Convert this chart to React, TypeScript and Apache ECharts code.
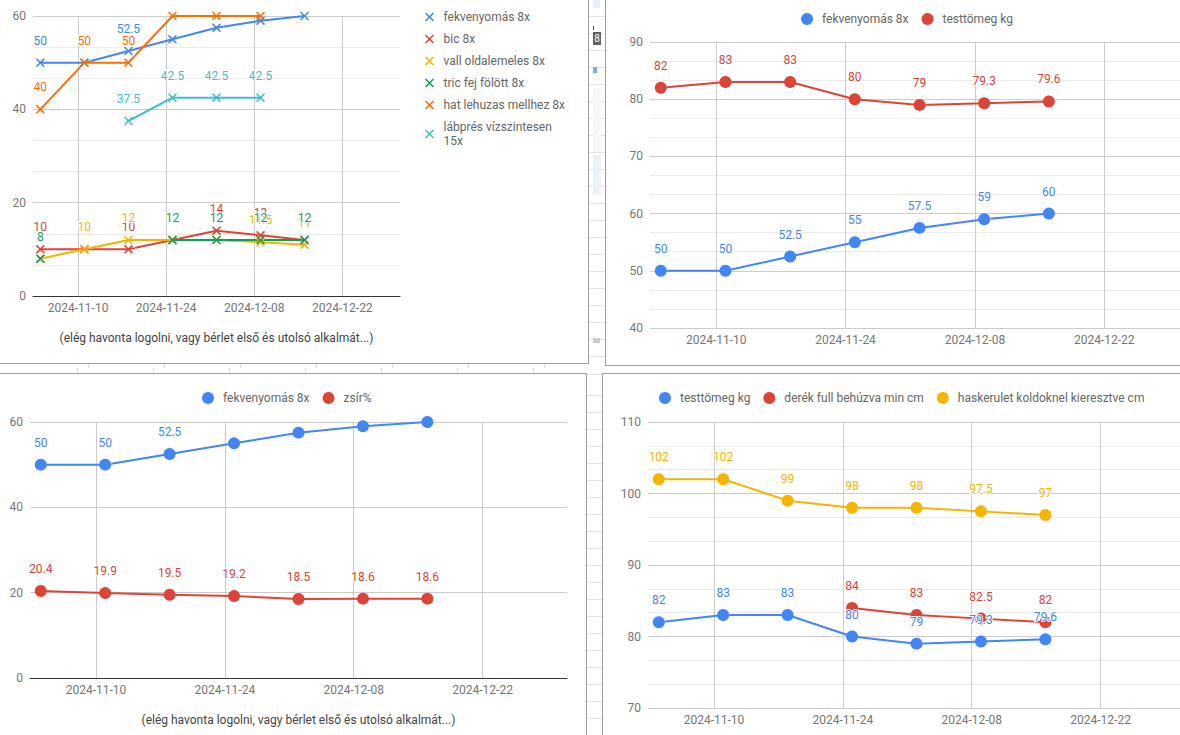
import React, { useEffect, useRef } from 'react';
import * as echarts from 'echarts';

// ---------- data ----------
const dates = ['2024-11-04', '2024-11-11', '2024-11-18', '2024-11-25', '2024-12-02', '2024-12-09', '2024-12-16'];
const tickDates = ['2024-11-10', '2024-11-24', '2024-12-08', '2024-12-22'];
const axisStart = '2024-11-02T20:00';
const axisEnd = '2024-12-31T04:00';

const fekvenyomas = [50, 50, 52.5, 55, 57.5, 59, 60];
const bic = [10, 10, 10, 12, 14, 13, 12];
const vall = [8, 10, 12, 12, 12, 11.5, 11];
const tric = [8, null, null, 12, 12, 12, 12];
const hat = [40, 50, 50, 60, 60, 60, null];
const labpres = [null, null, 37.5, 42.5, 42.5, 42.5, null];
const testtomeg = [82, 83, 83, 80, 79, 79.3, 79.6];
const zsir = [20.4, 19.9, 19.5, 19.2, 18.5, 18.6, 18.6];
const derek = [null, null, null, 84, 83, 82.5, 82];
const haskerulet = [102, 102, 99, 98, 98, 97.5, 97];

// which data labels are visible in the reference
const lblFekv1 = [true, false, true, false, false, false, false];
const lblBic = [true, false, true, false, true, true, false];
const lblVall = [false, true, true, false, false, true, true];
const lblTric = [true, false, false, true, true, true, true];
const lblHat = [true, true, true, false, false, false, false];
const lblLab = [false, false, true, true, true, true, false];
const lblFekv3 = [true, true, true, false, false, false, false];

const names = {
  fekv: 'fekvenyomás 8x',
  bic: 'bic 8x',
  vall: 'vall oldalemeles 8x',
  tric: 'tric fej fölött 8x',
  hat: 'hat lehuzas mellhez 8x',
  lab: 'lábprés vízszintesen 15x',
  test: 'testtömeg kg',
  zsir: 'zsír%',
  derek: 'derék full behúzva min cm',
  has: 'haskerulet koldoknel kieresztve cm',
};
const subtitle = '(elég havonta logolni, vagy bérlet első és utolsó alkalmát...)';

// ---------- style ----------
const FONT = 'Roboto, Arial, sans-serif';
const COL = {
  blue: '#4285F4',
  red: '#DB4437',
  yellow: '#F4B400',
  green: '#0F9D58',
  orange: '#FF6D01',
  teal: '#46BDC6',
};
const XSYM = 'path://M1.2,0L5,3.8L8.8,0L10,1.2L6.2,5L10,8.8L8.8,10L5,6.2L1.2,10L0,8.8L3.8,5L0,1.2Z';

function ts(s: string): number {
  const [dp, tp] = s.split('T');
  const [y, m, d] = dp.split('-').map(Number);
  const [hh, mm] = tp ? tp.split(':').map(Number) : [0, 0];
  return new Date(y, m - 1, d, hh, mm).getTime();
}
const pad = (n: number) => (n < 10 ? '0' + n : '' + n);
function fmtDate(v: number): string {
  const d = new Date(v);
  return d.getFullYear() + '-' + pad(d.getMonth() + 1) + '-' + pad(d.getDate());
}

function xAxisOpt(baseline: boolean, name?: string) {
  const ticks = tickDates.map(ts);
  return {
    type: 'value',
    min: ts(axisStart),
    max: ts(axisEnd),
    axisLine: { show: baseline, onZero: false, lineStyle: { color: '#333333', width: 1 } },
    axisTick: { show: false, customValues: ticks },
    axisLabel: {
      customValues: ticks,
      formatter: (v: number) => fmtDate(v),
      color: '#757575',
      fontSize: 12,
      fontFamily: FONT,
      margin: 6,
      hideOverlap: false,
    },
    splitLine: { show: true, lineStyle: { color: '#cccccc', width: 1 } },
    name: name || '',
    nameLocation: 'middle',
    nameGap: 36,
    nameTextStyle: { color: '#444444', fontSize: 12, fontFamily: FONT },
  };
}

function yAxisOpt(min: number, max: number, interval: number, minor: boolean) {
  return {
    type: 'value',
    min,
    max,
    interval,
    axisLine: { show: false },
    axisTick: { show: false },
    axisLabel: { color: '#757575', fontSize: 12, fontFamily: FONT, margin: 7 },
    splitLine: { show: true, lineStyle: { color: '#cccccc', width: 1 } },
    minorTick: { show: false, splitNumber: 3 },
    minorSplitLine: { show: minor, lineStyle: { color: '#ebebeb', width: 1 } },
  };
}

function series(
  name: string,
  values: (number | null)[],
  color: string,
  flags: boolean[] | null,
  cross: boolean
) {
  const size = cross ? 9 : 12;
  return {
    name,
    type: 'line',
    color,
    symbol: cross ? XSYM : 'circle',
    symbolSize: size,
    symbolKeepAspect: true,
    showSymbol: true,
    connectNulls: false,
    clip: true,
    lineStyle: { width: 2, color },
    itemStyle: { color, borderWidth: 0 },
    emphasis: { disabled: true },
    label: {
      show: true,
      position: 'top',
      distance: 22 - 7 - size / 2,
      color,
      fontSize: 12,
      fontFamily: FONT,
      lineHeight: 14,
      textBorderColor: '#ffffff',
      textBorderWidth: 2,
      formatter: (p: any) => String(p.value[1]),
    },
    labelLine: { show: true, lineStyle: { color: '#e6e6e6', width: 1 } },
    data: dates.map((d, i) => ({
      value: [ts(d), values[i]],
      label: { show: values[i] != null && (flags ? flags[i] : true) },
    })),
  };
}

function legendOpt(left: number, top: number) {
  return {
    left,
    top,
    icon: 'circle',
    itemWidth: 20,
    itemHeight: 12,
    itemGap: 13,
    textStyle: { color: '#666666', fontSize: 12, fontFamily: FONT, lineHeight: 14 },
  };
}

const opt1 = {
  animation: false,
  textStyle: { fontFamily: FONT },
  grid: { left: 33, top: 16, width: 367, height: 280, outerBoundsMode: 'none' },
  legend: {
    orient: 'vertical',
    left: 420,
    top: 5,
    icon: XSYM,
    itemWidth: 18,
    itemHeight: 9,
    itemGap: 8,
    symbolKeepAspect: true,
    textStyle: { color: '#666666', fontSize: 12, fontFamily: FONT, lineHeight: 14 },
    formatter: (n: string) => (n === names.lab ? 'lábprés vízszintesen\n15x' : n),
    data: [names.fekv, names.bic, names.vall, names.tric, names.hat, names.lab],
  },
  xAxis: xAxisOpt(true, subtitle),
  yAxis: yAxisOpt(0, 60, 20, true),
  series: [
    series(names.fekv, fekvenyomas, COL.blue, lblFekv1, true),
    series(names.bic, bic, COL.red, lblBic, true),
    series(names.vall, vall, COL.yellow, lblVall, true),
    series(names.tric, tric, COL.green, lblTric, true),
    series(names.hat, hat, COL.orange, lblHat, true),
    series(names.lab, labpres, COL.teal, lblLab, true),
  ],
};

const opt2 = {
  animation: false,
  textStyle: { fontFamily: FONT },
  grid: { left: 44, top: 42, width: 539, height: 286, outerBoundsMode: 'none' },
  legend: { ...legendOpt(190, 7), data: [names.fekv, names.test] },
  xAxis: xAxisOpt(false),
  yAxis: yAxisOpt(40, 90, 10, true),
  series: [
    series(names.fekv, fekvenyomas, COL.blue, null, false),
    series(names.test, testtomeg, COL.red, null, false),
  ],
};

const opt3 = {
  animation: false,
  textStyle: { fontFamily: FONT },
  grid: { left: 30, top: 48, width: 537, height: 256, outerBoundsMode: 'none' },
  legend: { ...legendOpt(197, 12), data: [names.fekv, names.zsir] },
  xAxis: xAxisOpt(true, subtitle),
  yAxis: yAxisOpt(0, 60, 20, false),
  series: [
    series(names.fekv, fekvenyomas, COL.blue, lblFekv3, false),
    series(names.zsir, zsir, COL.red, null, false),
  ],
};

const opt4 = {
  animation: false,
  textStyle: { fontFamily: FONT },
  grid: { left: 45, top: 48, width: 537, height: 286, outerBoundsMode: 'none' },
  legend: { ...legendOpt(51, 12), data: [names.test, names.derek, names.has] },
  xAxis: xAxisOpt(false),
  yAxis: yAxisOpt(70, 110, 10, true),
  series: [
    series(names.test, testtomeg, COL.blue, null, false),
    series(names.derek, derek, COL.red, null, false),
    series(names.has, haskerulet, COL.yellow, null, false),
  ],
};

function EChart({ option, width, height }: { option: any; width: number; height: number }) {
  const ref = useRef<HTMLDivElement>(null);
  useEffect(() => {
    if (!ref.current) return;
    const chart = echarts.init(ref.current, null, { renderer: 'svg' });
    chart.setOption(option);
    return () => chart.dispose();
  }, [option]);
  return <div ref={ref} style={{ position: 'absolute', left: 0, top: 0, width, height }} />;
}

const BORDER = '1px solid #9e9e9e';

export default function App() {
  return (
    <div
      style={{
        position: 'fixed',
        left: 0,
        top: 0,
        width: 1180,
        height: 735,
        overflow: 'hidden',
        background: '#ffffff',
        fontFamily: FONT,
      }}
    >
      {/* spreadsheet cell strips between the charts */}
      <div
        style={{
          position: 'absolute',
          left: 589,
          top: 0,
          width: 16,
          height: 365,
          backgroundImage: 'repeating-linear-gradient(to bottom, transparent 0px, transparent 16px, #e3e3e3 16px, #e3e3e3 17px)',
        }}
      />
      <div style={{ position: 'absolute', left: 593, top: 0, width: 7, height: 8, background: '#e8f0fe' }} />
      <div style={{ position: 'absolute', left: 593, top: 26, width: 1, height: 4, background: '#a52714' }} />
      <div
        style={{
          position: 'absolute',
          left: 593,
          top: 32,
          width: 8,
          height: 13,
          background: '#5f6368',
          color: '#ffffff',
          fontSize: 10,
          lineHeight: '13px',
          textAlign: 'center',
          overflow: 'hidden',
        }}
      >
        8
      </div>
      <div style={{ position: 'absolute', left: 593, top: 67, width: 4, height: 6, background: '#7baaf7' }} />
      <div style={{ position: 'absolute', left: 593, top: 88, width: 8, height: 64, background: '#f6f8fc' }} />
      <div style={{ position: 'absolute', left: 593, top: 155, width: 8, height: 40, background: '#eef2f9' }} />
      <div style={{ position: 'absolute', left: 593, top: 338, width: 7, height: 5, background: '#cccccc' }} />
      <div
        style={{
          position: 'absolute',
          left: 587,
          top: 374,
          width: 15,
          height: 361,
          backgroundImage: 'repeating-linear-gradient(to bottom, transparent 0px, transparent 16px, #e3e3e3 16px, #e3e3e3 17px)',
          backgroundPosition: '0px 5px',
        }}
      />
      <div
        style={{
          position: 'absolute',
          left: 0,
          top: 364,
          width: 588,
          height: 4,
          backgroundImage: 'repeating-linear-gradient(to right, transparent 0px, transparent 75px, #e0e0e0 75px, #e0e0e0 76px)',
          backgroundPosition: '13px 0px',
        }}
      />
      <div
        style={{
          position: 'absolute',
          left: 0,
          top: 368,
          width: 588,
          height: 5,
          backgroundImage: 'repeating-linear-gradient(to right, transparent 0px, transparent 75px, #e0e0e0 75px, #e0e0e0 76px)',
          backgroundPosition: '2px 0px',
        }}
      />

      {/* chart panels */}
      <div
        style={{
          position: 'absolute',
          left: 0,
          top: 0,
          width: 588,
          height: 363,
          borderRight: BORDER,
          borderBottom: BORDER,
          background: '#ffffff',
        }}
      >
        <EChart option={opt1} width={588} height={363} />
      </div>
      <div
        style={{
          position: 'absolute',
          left: 605,
          top: 0,
          width: 600,
          height: 365,
          borderLeft: BORDER,
          borderBottom: BORDER,
          background: '#ffffff',
        }}
      >
        <EChart option={opt2} width={600} height={365} />
      </div>
      <div
        style={{
          position: 'absolute',
          left: 0,
          top: 373,
          width: 586,
          height: 400,
          borderTop: BORDER,
          borderRight: BORDER,
          background: '#ffffff',
        }}
      >
        <EChart option={opt3} width={586} height={361} />
      </div>
      <div
        style={{
          position: 'absolute',
          left: 602,
          top: 373,
          width: 600,
          height: 400,
          borderTop: BORDER,
          borderLeft: BORDER,
          background: '#ffffff',
        }}
      >
        <EChart option={opt4} width={600} height={361} />
      </div>
    </div>
  );
}
